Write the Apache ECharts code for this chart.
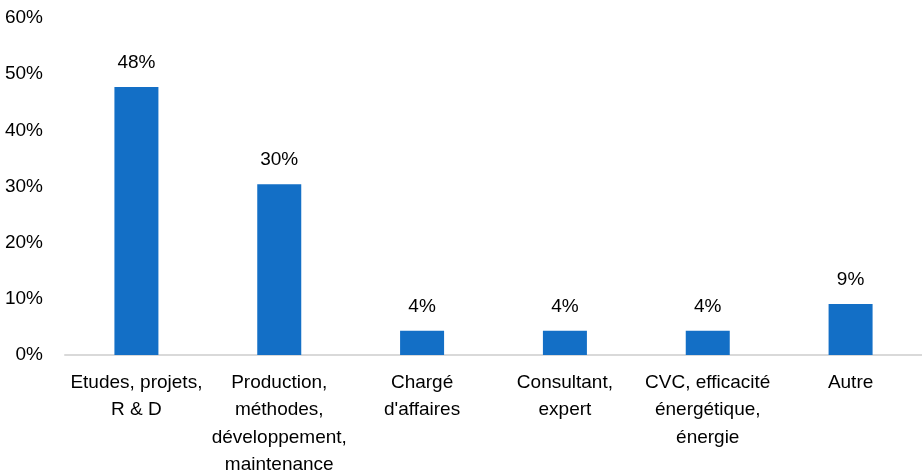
<!DOCTYPE html>
<html>
<head>
<meta charset="utf-8">
<script src="https://cdn.jsdelivr.net/npm/echarts@6/dist/echarts.min.js"></script>
<style>
  html, body { margin: 0; padding: 0; background: #ffffff; }
  #chart { width: 922px; height: 476px; }
</style>
</head>
<body>
<div id="chart"></div>
<script>
  const categories = [
    'Etudes, projets,\nR & D',
    'Production,\nméthodes,\ndéveloppement,\nmaintenance',
    'Chargé\nd\'affaires',
    'Consultant,\nexpert',
    'CVC, efficacité\nénergétique,\nénergie',
    'Autre'
  ]
  const values = [47.7, 30.4, 4.3, 4.3, 4.3, 9.1]
  const labels = ['48%', '30%', '4%', '4%', '4%', '9%']

  const font = "'Liberation Sans Narrow', 'Arial Narrow', 'Liberation Sans', Arial, sans-serif"

  const chart = echarts.init(document.getElementById('chart'))
  chart.setOption({
    animation: false,
    grid: {
      left: 65,
      right: 0,
      top: 18,
      bottom: 121,
      containLabel: false,
      outerBoundsMode: 'none'
    },
    xAxis: {
      type: 'category',
      data: categories,
      axisLine: {
        lineStyle: { color: '#d9d9d9', width: 2 }
      },
      axisTick: { show: false },
      axisLabel: {
        interval: 0,
        color: '#000000',
        fontFamily: font,
        fontSize: 19,
        lineHeight: 27.5,
        margin: 14
      }
    },
    yAxis: {
      type: 'value',
      min: 0,
      max: 60,
      interval: 10,
      splitLine: { show: false },
      axisLine: { show: false },
      axisTick: { show: false },
      axisLabel: {
        color: '#000000',
        fontFamily: font,
        fontSize: 19,
        margin: 22,
        formatter: '{value}%'
      }
    },
    series: [
      {
        type: 'bar',
        data: values,
        barWidth: 44,
        itemStyle: { color: '#136fc6' },
        label: {
          show: true,
          position: 'top',
          distance: 15,
          color: '#000000',
          fontFamily: font,
          fontSize: 19,
          formatter: function (p) {
            return labels[p.dataIndex]
          }
        }
      }
    ]
  })
</script>
</body>
</html>
